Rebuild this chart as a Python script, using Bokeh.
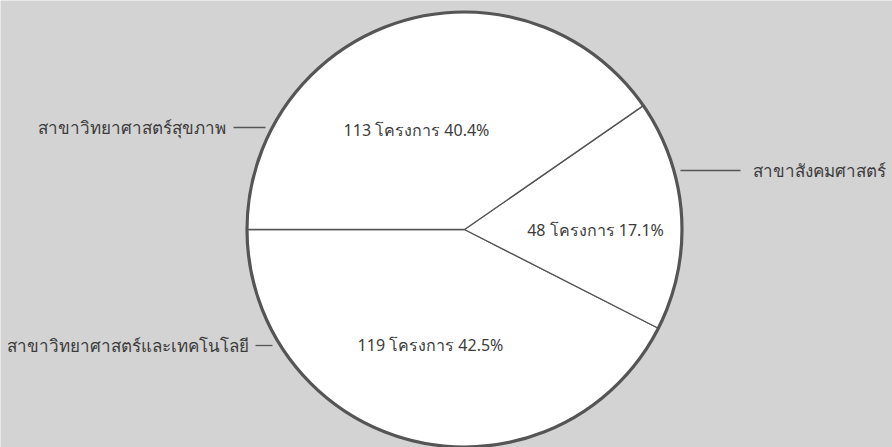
import math
from bokeh.plotting import figure
from bokeh.models import ColumnDataSource, Range1d
from bokeh.core.properties import value
from bokeh.embed import file_html
from bokeh.resources import INLINE

# ---- data ----
categories = ["สาขาวิทยาศาสตร์และเทคโนโลยี", "สาขาสังคมศาสตร์", "สาขาวิทยาศาสตร์สุขภาพ"]
projects = [119, 48, 113]
percents = ["42.5%", "17.1%", "40.4%"]
unit = "โครงการ"

# ---- layout constants (screen-like data units) ----
W, H = 892, 447
CX, CY, R = 464, 218, 217.5
START = math.pi
BG = "#d3d3d3"
INK = "#3c3c3c"
EDGE = "#555555"
FONT = "Noto Sans"

total = sum(projects)
starts, ends = [], []
a = START
for v in projects:
    starts.append(a)
    a += 2 * math.pi * v / total
    ends.append(a)

p = figure(width=W, height=H, output_backend="svg", toolbar_location=None,
           x_range=Range1d(0, W), y_range=Range1d(0, H),
           min_border=0, background_fill_color=BG, border_fill_color=BG,
           outline_line_color=None)
p.axis.visible = False
p.grid.visible = False

src = ColumnDataSource(dict(cat=categories, n=projects, start=starts, end=ends))
p.wedge(x=CX, y=CY, radius=R, start_angle="start", end_angle="end", source=src,
        fill_color="white", line_color=EDGE, line_width=1.3)
p.circle(x=[CX], y=[CY], radius=R, fill_color=None, line_color=EDGE, line_width=3.2)

# inside labels (tech, social, health)
in_x = [430, 595, 416]
in_y = [103, 218, 318]
inside = [f"{n} {unit} {pc}" for n, pc in zip(projects, percents)]
p.text(x=in_x, y=in_y, text=inside, text_align="center", text_baseline="middle",
       text_font=value(FONT), text_font_size="16px", text_color=INK)

# outside labels with leader lines
out_x = [248, 752, 225]
out_y = [102, 277, 320]
out_align = ["right", "left", "right"]
for i in range(3):
    p.text(x=[out_x[i]], y=[out_y[i]], text=[categories[i]], text_align=out_align[i],
           text_baseline="middle", text_font=value(FONT), text_font_size="17px",
           text_color=INK)
lead_x0 = [255, 680, 233]
lead_x1 = [272, 740, 265]
for i in range(3):
    p.line(x=[lead_x0[i], lead_x1[i]], y=[out_y[i], out_y[i]], line_color=EDGE, line_width=1.3)

html = file_html(p, INLINE)
html = html.replace("<body>", '<body style="margin:0;background:%s">' % BG, 1)
open("out.html", "w").write(html)
